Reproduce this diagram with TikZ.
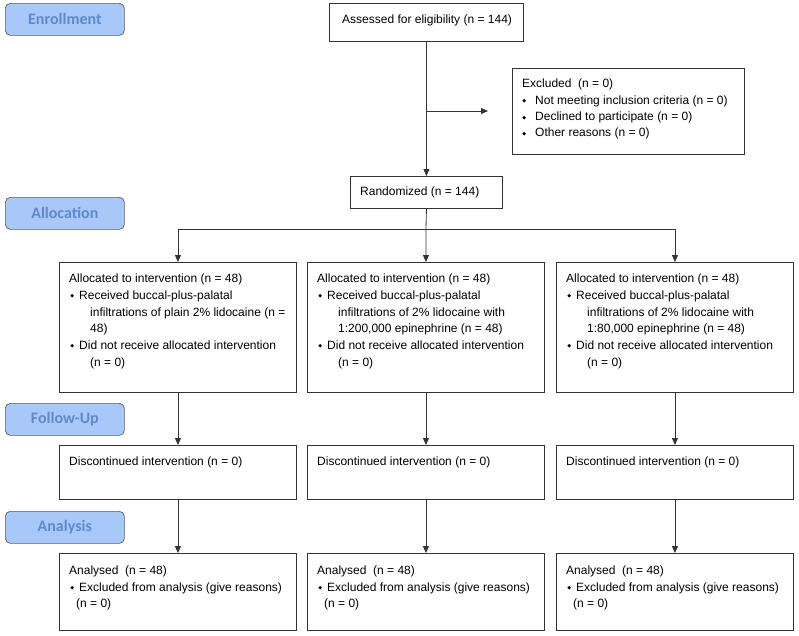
\documentclass[tikz,border=0pt]{standalone}
\usepackage{fontspec}
\setmainfont{Liberation Sans}
\newfontfamily\hdrfont{Carlito}
\newfontfamily\symf{DejaVu Sans}
\usetikzlibrary{arrows.meta}
\definecolor{hdrfill}{HTML}{A9C8FA}
\definecolor{hdrtext}{HTML}{5E8ACA}
\definecolor{linec}{HTML}{333333}
\newcommand{\dmd}{{\symf\fontsize{5}{5}\selectfont\raisebox{1.5pt}{◆}}}
\newcommand{\bul}{\makebox[10pt][l]{\hspace{1.2pt}\dmd}}
\newcommand{\bulx}{\makebox[13pt][l]{\hspace{0.2pt}\dmd}}
\begin{document}
\begin{tikzpicture}[x=1pt,y=-1pt,
  box/.style={draw=linec, line width=0.9pt, rectangle, inner sep=0pt, anchor=north west},
  txt/.style={inner sep=0pt, anchor=north west, align=left, font=\fontsize{12}{16.7}\selectfont},
  hdr/.style={draw=linec!80, line width=0.7pt, fill=hdrfill, rounded corners=5pt,
    minimum width=119pt, minimum height=32pt, inner sep=0pt, anchor=north west,
    font=\hdrfont\bfseries\fontsize{16}{18}\selectfont, text=hdrtext},
  arr/.style={draw=linec, line width=0.8pt, -{Triangle[length=7pt,width=6pt]}},
  ln/.style={draw=linec, line width=0.8pt}]
\useasboundingbox (0,0) rectangle (799,635);

% phase headers
\node[hdr] (henr) at (5,3) {Enrollment};
\node[hdr] (hall) at (5,197) {Allocation};
\node[hdr] (hfol) at (5,403) {Follow-Up};
\node[hdr] (hana) at (5,511) {Analysis};

% enrollment
\node[box, minimum width=194pt, minimum height=38pt] (assess) at (329,3) {};
\node[txt, anchor=base west] (assesst) at (342,23.5) {Assessed for eligibility (n = 144)};

\node[box, minimum width=232pt, minimum height=86pt] (excl) at (512,68) {};
\node[txt, anchor=north west, font=\fontsize{12}{16.3}\selectfont] (exclt) at (522,76.3) {\strut Excluded\ \ (n = 0)\\
\bulx Not meeting inclusion criteria (n = 0)\\
\bulx Declined to participate (n = 0)\\
\bulx Other reasons (n = 0)};

\node[box, minimum width=152pt, minimum height=32pt] (rand) at (350,176) {};
\node[txt, anchor=base west] (randt) at (360,195.7) {Randomized (n = 144)};

% allocation
\node[box, minimum width=237pt, minimum height=130pt] (a1) at (59,262) {};
\node[box, minimum width=237pt, minimum height=130pt] (a2) at (307,262) {};
\node[box, minimum width=237pt, minimum height=130pt] (a3) at (556,262) {};
\node[txt] (a1t) at (69,270.8) {\strut Allocated to intervention (n = 48)\\
\bul Received buccal-plus-palatal\\
\hspace*{21pt}infiltrations of plain 2\% lidocaine (n =\\
\hspace*{21pt}48)\\
\bul Did not receive allocated intervention\\
\hspace*{21pt}(n = 0)};
\node[txt] (a2t) at (317,270.8) {\strut Allocated to intervention (n = 48)\\
\bul Received buccal-plus-palatal\\
\hspace*{21pt}infiltrations of 2\% lidocaine with\\
\hspace*{21pt}1:200,000 epinephrine (n = 48)\\
\bul Did not receive allocated intervention\\
\hspace*{21pt}(n = 0)};
\node[txt] (a3t) at (566,270.8) {\strut Allocated to intervention (n = 48)\\
\bul Received buccal-plus-palatal\\
\hspace*{21pt}infiltrations of 2\% lidocaine with\\
\hspace*{21pt}1:80,000 epinephrine (n = 48)\\
\bul Did not receive allocated intervention\\
\hspace*{21pt}(n = 0)};

% follow-up
\node[box, minimum width=237pt, minimum height=54pt] (f1) at (59,445) {};
\node[box, minimum width=237pt, minimum height=54pt] (f2) at (307,445) {};
\node[box, minimum width=237pt, minimum height=54pt] (f3) at (556,445) {};
\node[txt, anchor=base west] (f1t) at (69,465.3) {Discontinued intervention (n = 0)};
\node[txt, anchor=base west] (f2t) at (317,465.3) {Discontinued intervention (n = 0)};
\node[txt, anchor=base west] (f3t) at (566,465.3) {Discontinued intervention (n = 0)};

% analysis
\node[box, minimum width=237pt, minimum height=77pt] (n1) at (59,553) {};
\node[box, minimum width=237pt, minimum height=77pt] (n2) at (307,553) {};
\node[box, minimum width=237pt, minimum height=77pt] (n3) at (556,553) {};
\node[txt] (n1t) at (69,562.6) {\strut Analysed\ \ (n = 48)\\
\bul Excluded from analysis (give reasons)\\
\hspace*{7pt}(n = 0)};
\node[txt] (n2t) at (317,562.6) {\strut Analysed\ \ (n = 48)\\
\bul Excluded from analysis (give reasons)\\
\hspace*{7pt}(n = 0)};
\node[txt] (n3t) at (566,562.6) {\strut Analysed\ \ (n = 48)\\
\bul Excluded from analysis (give reasons)\\
\hspace*{7pt}(n = 0)};

% connectors
\coordinate (exA) at (426,111);
\coordinate (exB) at (488,111);
\coordinate (br) at (426,229);
\draw[arr] (assess.south) -- (rand.north);
\draw[arr] (exA) -- (exB);
\draw[ln] (rand.south) -- (br);
\draw[arr] (br) -| (a1.north);
\draw[arr] (br) -- (a2.north);
\draw[arr] (br) -| (a3.north);
\draw[arr] (a1.south) -- (f1.north);
\draw[arr] (a2.south) -- (f2.north);
\draw[arr] (a3.south) -- (f3.north);
\draw[arr] (f1.south) -- (n1.north);
\draw[arr] (f2.south) -- (n2.north);
\draw[arr] (f3.south) -- (n3.north);
\end{tikzpicture}
\end{document}
